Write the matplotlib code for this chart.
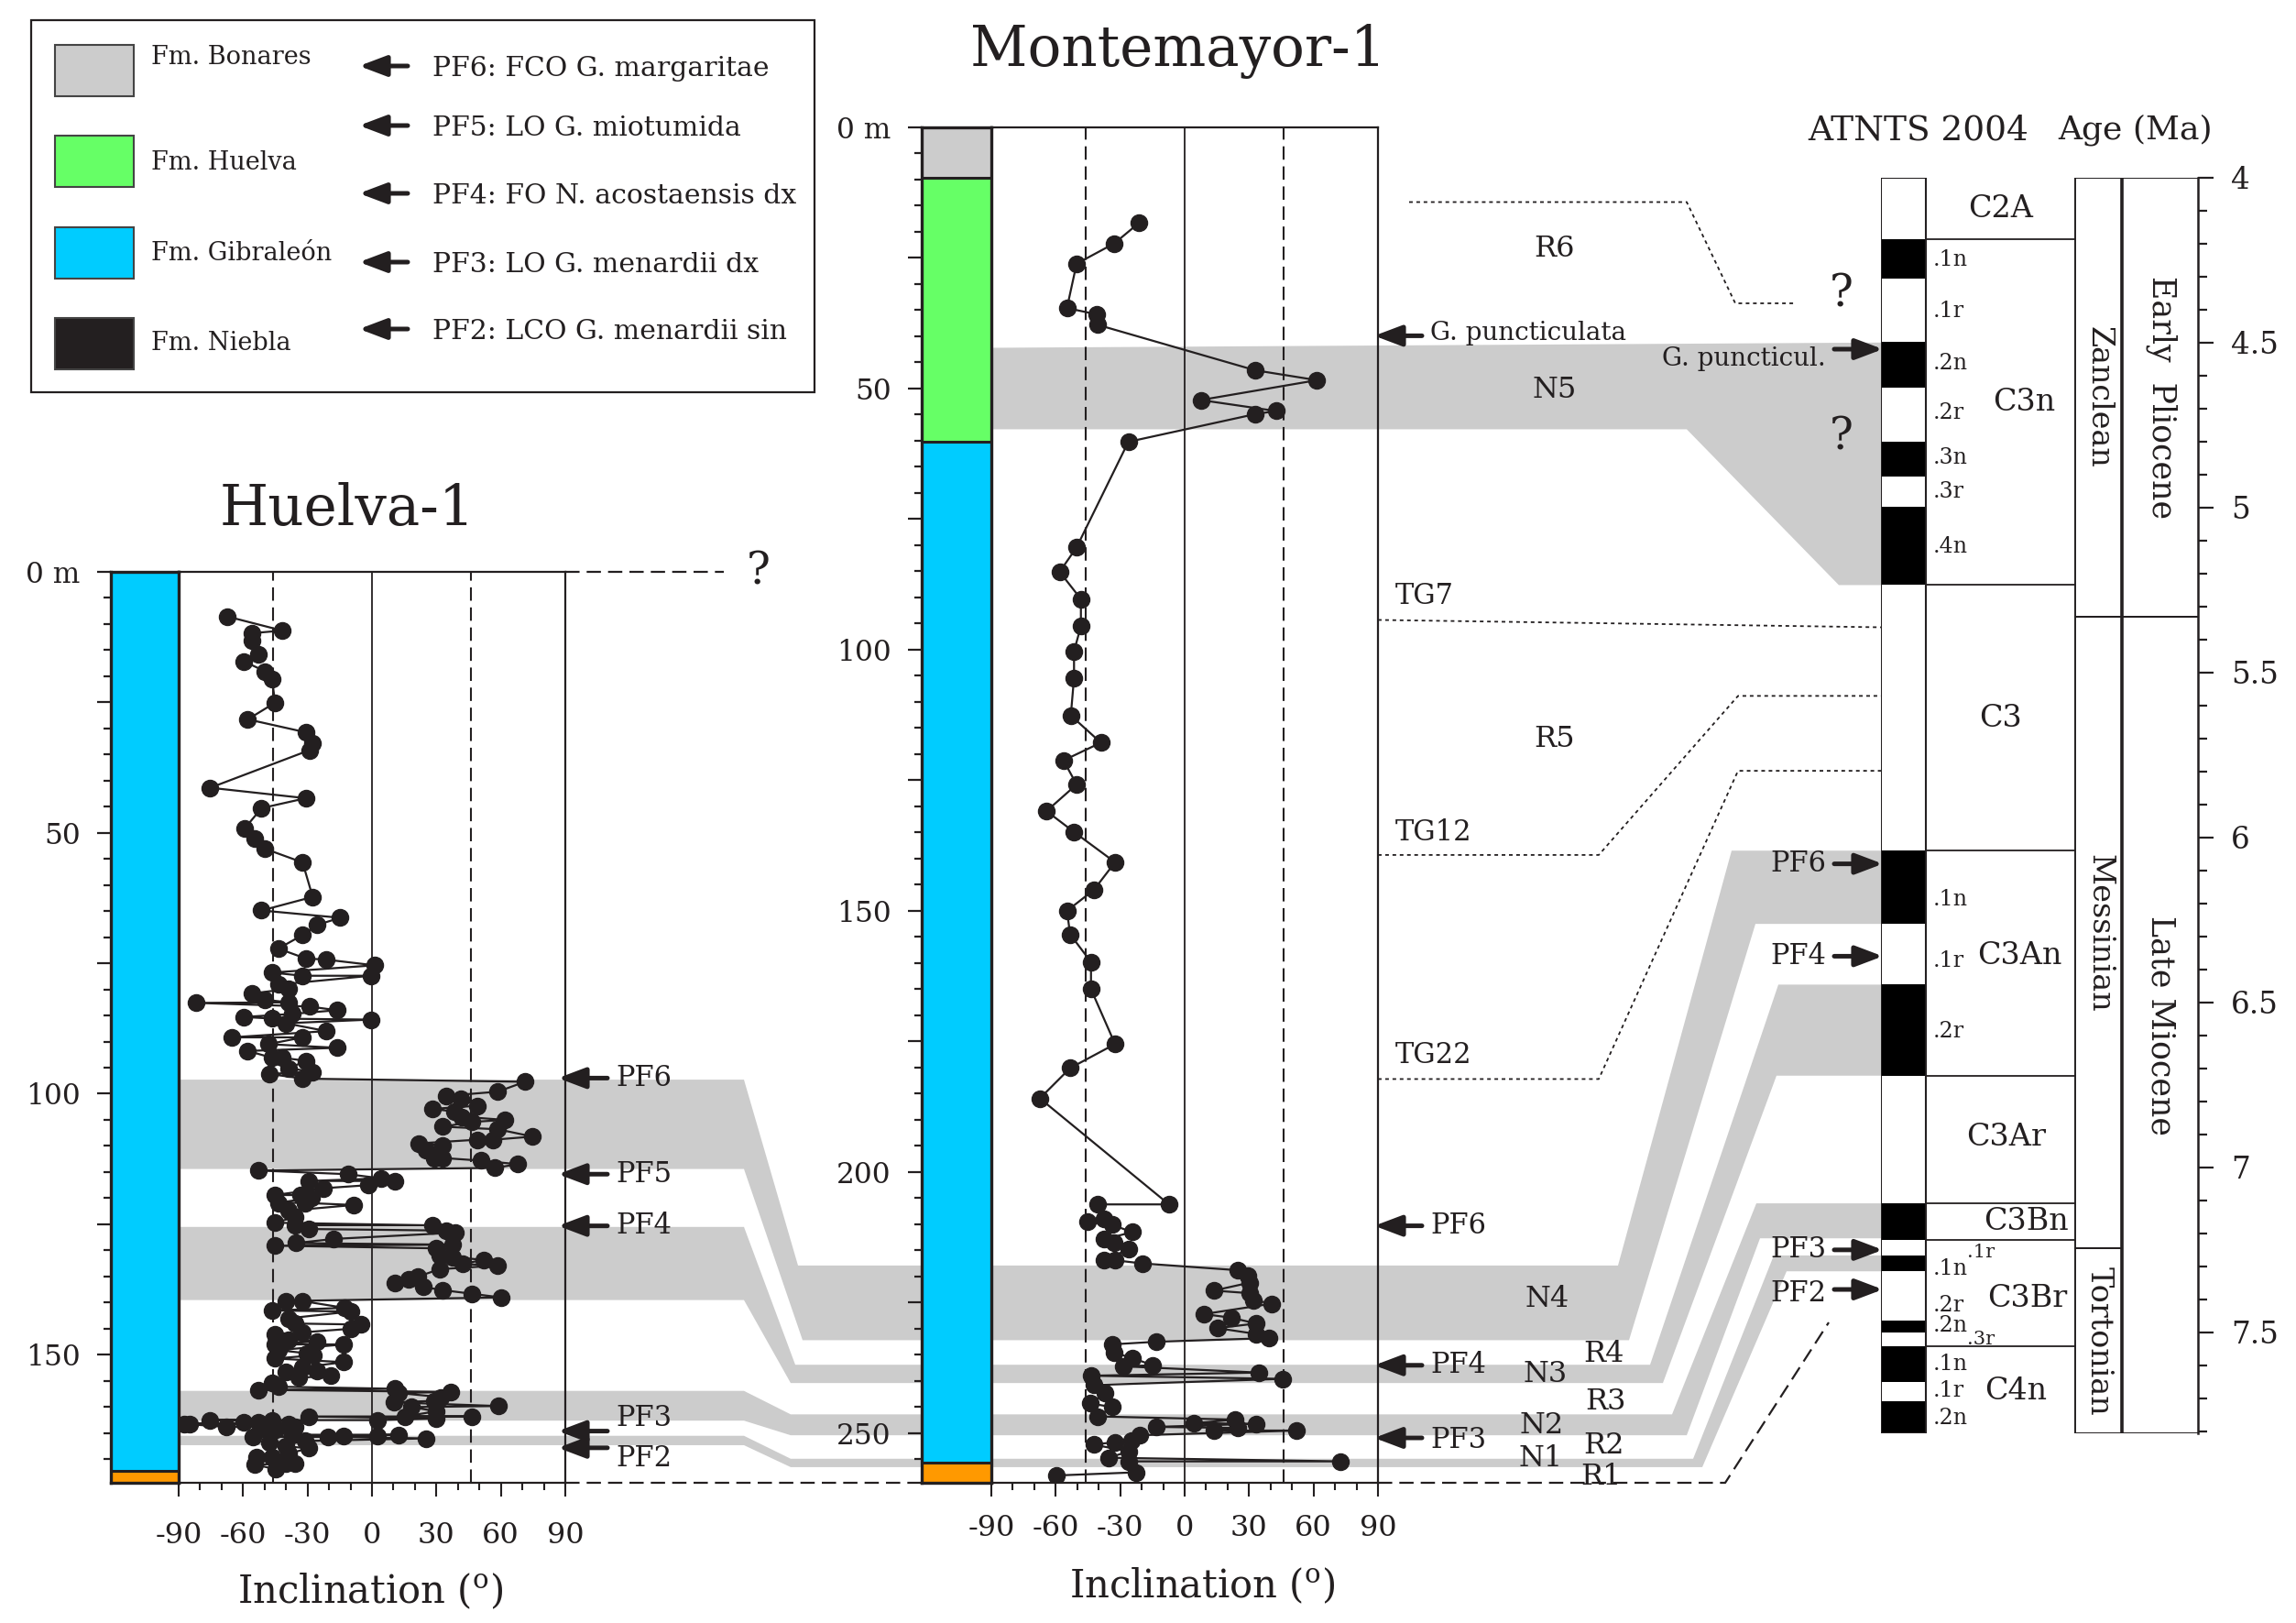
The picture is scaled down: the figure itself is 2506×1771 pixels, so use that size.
import numpy as np
import matplotlib
matplotlib.use("Agg")
import matplotlib.pyplot as plt
from matplotlib.patches import Polygon, Rectangle
from matplotlib.ticker import MultipleLocator

plt.rcParams['font.family'] = ['DejaVu Serif']
plt.rcParams['mathtext.fontset'] = 'dejavuserif'
INK = '#231f20'
GREY = '#cccccc'
GREEN = '#66ff66'
BLUE = '#00ccff'
ORANGE = '#ff9900'

#######################################################################
# Data
#######################################################################

# Huelva-1 : depth (m) and inclination (deg)
huelva_depth = [8.6, 11.3, 11.8, 13.3, 15.8, 17.2, 19.1, 20.5, 25.1, 28.3, 30.8, 32.8, 34.2,
                41.4, 43.4, 45.3, 49.2, 51.2, 53.1, 55.7, 62.3, 64.9, 66.3, 67.7, 69.6, 72.2,
                74.1, 74.3, 75.4, 76.8, 77.4, 77.4, 79.1, 79.9, 80.8, 82.0, 82.5, 82.6, 83.3,
                84.0, 84.7, 85.3, 85.6, 85.8, 86.5, 88.0, 89.2, 89.2, 90.5, 91.2, 91.8, 93.1,
                93.1, 93.7, 95.1, 95.8, 96.2, 97.1,
                97.7, 99.6, 100.4, 100.9, 102.3, 102.9, 103.4, 104.4, 105.0, 105.4, 106.3,
                106.8, 108.2, 108.8, 108.8, 109.5, 109.9, 110.8, 112.3, 112.3, 112.8, 113.5,
                114.2, 114.7, 115.4, 116.2, 116.7, 116.7, 117.5, 118.1, 119.4, 119.4, 119.9,
                120.9, 120.9, 121.3, 122.4, 123.6, 124.7, 125.2, 125.2, 125.9, 126.2, 126.6,
                127.8, 128.6, 128.9, 129.1, 129.6, 130.9, 131.3, 131.8, 132.6, 132.9, 133.6,
                135.0, 135.6, 136.3, 137.0, 137.6, 138.3, 139.0, 139.7, 139.7, 141.0, 141.5,
                141.7, 143.0, 144.0, 144.2, 145.0, 145.7, 146.0, 147.1, 147.4, 148.0, 148.0,
                149.1, 149.7, 150.1, 150.7, 151.4, 152.4, 153.1, 153.3, 154.0, 154.4, 155.3,
                156.1, 156.5, 156.7, 157.1, 157.3, 158.1, 158.8, 159.1, 159.8, 160.0, 160.8,
                161.8, 161.8, 161.8, 162.2, 162.5, 162.5, 162.5, 163.0, 163.0, 163.2, 163.2,
                163.3, 163.8, 163.8, 164.0, 164.3, 165.3, 165.3, 165.5, 165.5, 165.7, 165.7,
                166.0, 166.5, 166.8, 167.5, 167.9, 168.9, 169.5, 169.5, 170.9, 170.9, 171.0,
                171.9]
huelva_inc = [-67.4, -41.8, -55.9, -55.9, -52.9, -59.6, -49.8, -46.6, -45.1, -57.8, -30.6, -27.6, -29.1,
              -75.3, -30.8, -51.4, -59.3, -54.4, -49.7, -32.3, -27.6, -51.4, -14.8, -25.8, -32.3, -43.6,
              -30.8, -21.5, 1.2, -46.6, -32.3, -0.6, -43.6, -38.7, -55.9, -49.8, -38.7, -81.7, -29.1,
              -16.3, -36.9, -59.6, -46.6, -0.6, -40.2, -21.2, -65.4, -32.3, -48.2, -16.3, -57.8, -46.6,
              -41.8, -30.6, -38.7, -27.6, -47.8, -32.3,
              71.3, 58.5, 34.7, 41.3, 48.9, 28.3, 38.2, 41.8, 61.9, 46.6, 32.9,
              58.5, 74.8, 56.5, 48.9, 21.8, 32.9, 25.3, 29.1, 32.9, 50.7, 68.0,
              57.0, -52.9, -11.3, 4.3, -29.3, 10.8, -1.8, -22.7, -45.1, -33.4, -28.0,
              -43.7, -31.1, -8.5, -38.7, -35.7, -45.1, 28.3, -35.7, -29.3, 34.7, 39.0,
              -17.8, -35.6, 37.5, -45.1, 29.9, 31.4, 37.5, 52.0, 42.1, 58.5, 31.4,
              21.5, 16.9, 10.8, 23.8, 32.9, 46.6, 60.0, -40.2, -32.3, -12.8, -46.6,
              -9.8, -38.7, -35.7, -5.2, -9.8, -32.6, -45.1, -38.7, -25.8, -45.1, -13.1,
              -43.6, -30.3, -27.3, -45.1, -13.1, -32.6, -25.8, -40.2, -19.2, -34.1, -46.6,
              -43.6, 10.8, -52.9, 36.7, 12.3, 32.2, 29.1, 10.1, 58.8, 18.4, 29.9,
              15.4, 46.6, -29.6, 29.9, 2.7, -75.3, -46.6, -59.7, -52.9, -87.5, -38.7,
              -84.7, -67.7, -35.7, -51.3, -44.8, -37.3, 12.3, -13.1, 2.4, -55.5, -20.4,
              25.0, -31.1, -47.8, -40.2, -29.6, -38.7, -53.9, -46.6, -35.7, -40.2, -54.7,
              -44.8]

# Montemayor-1 : depth (m) and inclination (deg)
mont_depth = [18.3, 22.2, 26.1, 34.6, 35.8, 37.8, 46.5, 48.4, 52.2, 54.3, 54.9, 60.2,
              80.4, 85.1, 90.3, 95.5, 100.3, 105.4, 112.6, 117.8, 121.2, 125.8, 130.9, 134.9,
              140.7, 146.0, 150.0, 154.5, 159.8, 165.0, 175.5, 180.1, 185.9,
              206.2, 206.2, 209.0, 209.5, 210.1, 211.5, 212.9, 213.6, 214.8, 216.8, 216.9,
              217.5, 218.8, 219.8, 221.2, 222.7, 223.2, 224.5, 225.2, 227.2, 227.9, 229.0,
              229.9, 231.0, 231.8, 232.5, 233.0, 234.6, 235.6, 237.0, 237.2, 238.4, 239.0,
              239.6, 240.8, 242.3, 244.3, 245.0, 246.8, 247.4, 248.1, 248.2, 248.8, 249.0,
              249.5, 249.5, 250.4, 251.5, 251.7, 252.2, 253.5, 254.7, 255.4, 255.4, 257.5,
              258.1]
mont_inc = [-21.3, -32.7, -50.3, -54.8, -40.8, -40.5, 32.8, 61.6, 7.5, 42.5, 32.8, -26.2,
            -50.3, -58.2, -48.3, -48.3, -51.5, -51.5, -53.0, -39.0, -56.4, -50.3, -64.3, -51.5,
            -32.4, -42.3, -54.8, -53.3, -43.6, -43.6, -32.4, -53.3, -67.4,
            -7.3, -40.5, -37.5, -45.4, -33.9, -24.4, -37.5, -32.9, -25.9, -37.5, -32.4,
            -19.8, 24.7, 29.6, 30.1, 13.6, 30.1, 31.8, 40.7, 9.0, 21.7, 33.3,
            15.3, 33.3, 39.2, -13.4, -33.9, -32.9, -24.4, -14.9, -28.6, 34.6, -43.6,
            45.6, -42.3, -37.0, -43.9, -33.9, -40.5, 23.5, 4.1, 33.3, -13.4, 24.7,
            13.6, 52.1, -21.0, -24.8, -32.4, -42.3, -25.9, -35.5, 72.7, -25.9, -22.8,
            -59.6]

inc_ticks = [-90, -60, -30, 0, 30, 60, 90]
inc_labels = ['-90', '-60', '-30', '0', '30', '60', '90']
gad_inc = [-46, 46]

huelva_max = 174.5
mont_max = 259.5
huelva_lith = [(BLUE, 0, 172.2), (ORANGE, 172.2, 174.5)]
mont_lith = [(GREY, 0, 9.7), (GREEN, 9.7, 60.2), (BLUE, 60.2, 255.7), (ORANGE, 255.7, 259.5)]

# normal polarity intervals (grey bands), depth in m
huelva_bands = [(97.3, 114.4), (125.5, 139.5), (156.9, 162.6), (165.5, 167.3)]
mont_bands = [(42.2, 57.8), (217.9, 232.2), (236.9, 240.4), (246.4, 250.4), (254.9, 256.5)]
band_ages = [(4.50, 5.235), (6.040, 6.262), (6.446, 6.722), (7.109, 7.215), (7.267, 7.315)]

huelva_events = [("PF6", 97.0), ("PF5", 115.4), ("PF4", 125.3), ("PF3", 164.6), ("PF2", 167.8)]
mont_events = [("G. puncticulata", 39.9), ("PF6", 210.3), ("PF4", 237.0), ("PF3", 250.9)]
gpts_events = [("G. puncticul.", 4.52), ("PF6", 6.08), ("PF4", 6.36), ("PF3", 7.25), ("PF2", 7.37)]

# correlation lines: (label, Montemayor depth, age)
tg_lines = [("TG7", 94.3, 5.363), ("TG12", 139.3, 5.571), ("TG22", 182.2, 5.798)]
r6_depth, r6_age = 14.3, 4.381
huelva_base_age = 7.47

# ATNTS 2004 polarity column
age_top, age_bot = 4.0, 7.806
normal_chrons = [(4.187, 4.305), (4.497, 4.637), (4.800, 4.905), (4.999, 5.235), (6.040, 6.262),
                 (6.446, 6.722), (7.109, 7.219), (7.267, 7.315), (7.464, 7.500), (7.543, 7.651),
                 (7.710, 7.806)]
chron_bounds = [4.187, 5.235, 6.040, 6.722, 7.109, 7.219, 7.543]
chron_names = [("C2A", 4.096), ("C3n", 4.680), ("C3", 5.639), ("C3An", 6.359), ("C3Ar", 6.909),
               ("C3Bn", 7.165), ("C3Br", 7.397), ("C4n", 7.679)]
subchron_names = [(".1n", 4.250), (".1r", 4.404), (".2n", 4.563), (".2r", 4.712), (".3n", 4.848),
                  (".3r", 4.951), (".4n", 5.118), (".1n", 6.188), (".1r", 6.374), (".2r", 6.588),
                  (".1n", 7.307), (".2r", 7.418), (".2n", 7.480), (".1n", 7.597), (".1r", 7.677),
                  (".2n", 7.760)]
subchron_sup = [(".1r", 7.258), (".3r", 7.520)]
stages = [("Zanclean", 4.0, 5.332), ("Messinian", 5.332, 7.246), ("Tortonian", 7.246, 7.806)]
epochs = [("Early  Pliocene", 4.0, 5.332), ("Late Miocene", 5.332, 7.806)]
age_ticks = [4, 4.5, 5, 5.5, 6, 6.5, 7, 7.5]
age_labels = ['4', '4.5', '5', '5.5', '6', '6.5', '7', '7.5']

legend_units = ["Fm. Bonares", "Fm. Huelva", "Fm. Gibraleón", "Fm. Niebla"]
legend_colors = [GREY, GREEN, BLUE, INK]
legend_events = ["PF6: FCO G. margaritae", "PF5: LO G. miotumida", "PF4: FO N. acostaensis dx",
                 "PF3: LO G. menardii dx", "PF2: LCO G. menardii sin"]

#######################################################################
# Figure, pixel based layout
#######################################################################
W, H = 2506, 1771
fig = plt.figure(figsize=(W / 100, H / 100), dpi=100)


def add_px_axes(x0, y0, x1, y1):
    return fig.add_axes([x0 / W, 1 - y1 / H, (x1 - x0) / W, (y1 - y0) / H])


ov = fig.add_axes([0, 0, 1, 1])
ov.set_xlim(0, W)
ov.set_ylim(H, 0)
ov.axis('off')
ov.set_zorder(0)


def draw_log(lx0, x0, x1, y0, y1, dmax, depth, inc, layers, lab_pad):
    axl = add_px_axes(lx0, y0, x0, y1)
    axl.set_zorder(3)
    axl.set_xlim(0, 1)
    axl.set_ylim(dmax, 0)
    for color, top, bot in layers:
        axl.axhspan(top, min(bot, dmax), color=color, lw=0)
    for color, top, bot in layers[1:]:
        axl.axhline(top, color=INK, lw=2.2)
    axl.set_xticks([])
    ticks = np.arange(0, dmax, 25)
    axl.set_yticks(ticks)
    axl.set_yticklabels(['0 m' if t == 0 else ('%d' % t if t % 50 == 0 else '') for t in ticks])
    axl.yaxis.set_minor_locator(MultipleLocator(5))
    axl.tick_params(axis='y', which='major', length=11, width=1.6, labelsize=22.5, pad=13,
                    color=INK, labelcolor=INK)
    axl.tick_params(axis='y', which='minor', length=6, width=1.6, color=INK)
    for s in axl.spines.values():
        s.set_linewidth(2.4)
        s.set_color(INK)

    ax = add_px_axes(x0, y0, x1, y1)
    ax.set_facecolor('none')
    ax.set_zorder(2)
    ax.set_xlim(-90, 90)
    ax.set_ylim(dmax, 0)
    ax.axvline(0, color=INK, lw=1.3, zorder=1)
    for v in gad_inc:
        ax.axvline(v, color=INK, lw=1.5, dashes=(7, 3.5), zorder=1)
    d = np.asarray(depth)
    i = np.asarray(inc)
    o = np.argsort(d, kind='stable')
    ax.plot(i[o], d[o], color=INK, lw=1.6, marker='o', ms=13, zorder=3)
    ax.set_yticks([])
    ax.set_xticks(inc_ticks)
    ax.set_xticklabels(inc_labels)
    ax.xaxis.set_minor_locator(MultipleLocator(10))
    ax.tick_params(axis='x', which='major', length=10.5, width=1.5, labelsize=23, pad=lab_pad,
                   color=INK, labelcolor=INK)
    ax.tick_params(axis='x', which='minor', length=5.5, width=1.5, color=INK)
    for s in ax.spines.values():
        s.set_linewidth(1.6)
        s.set_color(INK)
    return axl, ax


axl_h, ax_h = draw_log(121, 195, 617, 623.7, 1618, huelva_max, huelva_depth, huelva_inc,
                       huelva_lith, 20)
axl_m, ax_m = draw_log(1006, 1082, 1504, 139, 1618, mont_max, mont_depth, mont_inc,
                       mont_lith, 14)

# ATNTS column
ag = add_px_axes(2053, 193.8, 2399, 1564)
ag.set_zorder(3)
ag.set_facecolor('none')
ag.set_xlim(2053, 2399)
ag.set_ylim(age_bot, age_top)
ag.fill_betweenx([age_top, age_bot], 2053, 2102, color='white', lw=0)
for a0, a1 in normal_chrons:
    ag.fill_betweenx([a0, a1], 2053, 2102, color='black', lw=0)
ag.plot([2053, 2102, 2102, 2053, 2053], [age_top, age_top, age_bot, age_bot, age_top],
        color=INK, lw=1.5)
for b in chron_bounds:
    ag.plot([2102, 2265], [b, b], color=INK, lw=1.3)
for name, a0, a1 in stages:
    ag.plot([2265, 2316, 2316, 2265, 2265], [a0, a0, a1, a1, a0], color=INK, lw=1.4)
    ag.text(2291, (a0 + a1) / 2, name, rotation=-90, ha='center', va='center',
            fontsize=24, color=INK)
for name, a0, a1 in epochs:
    ag.plot([2316, 2399], [a0, a0], color=INK, lw=1.4)
    ag.plot([2316, 2399], [a1, a1], color=INK, lw=1.4)
    ag.text(2359, (a0 + a1) / 2, name, rotation=-90, ha='center', va='center',
            fontsize=25, color=INK)
ag.plot([2316, 2316], [age_top, age_bot], color=INK, lw=2.6)
chron_x = {"C2A": 2184, "C3n": 2209, "C3": 2184, "C3An": 2204, "C3Ar": 2190,
           "C3Bn": 2211, "C3Br": 2213, "C4n": 2200}
for name, a in chron_names:
    ag.text(chron_x[name], a, name, ha='center', va='center', fontsize=24, color=INK)
for name, a in subchron_names:
    ag.text(2110, a, name, ha='left', va='center', fontsize=17, color=INK)
for name, a in subchron_sup:
    ag.text(2147, a, name, ha='left', va='center', fontsize=15, color=INK)
ag.set_xticks([])
ag.yaxis.tick_right()
ag.set_yticks(age_ticks)
ag.set_yticklabels(age_labels)
ag.yaxis.set_minor_locator(MultipleLocator(0.1))
ag.tick_params(axis='y', which='major', length=12, width=1.6, labelsize=23.5, pad=14,
               color=INK, labelcolor=INK)
ag.tick_params(axis='y', which='minor', length=7, width=1.6, color=INK)
for k, s in ag.spines.items():
    s.set_visible(k == 'right')
    s.set_linewidth(1.8)
    s.set_color(INK)

#######################################################################
# Overlay: correlation bands, lines, arrows and labels
#######################################################################


def to_ov(ax, x, y):
    return ov.transData.inverted().transform(ax.transData.transform((x, y)))


def y_on(ax, v):
    return to_ov(ax, ax.get_xlim()[0], v)[1]


xh_left = to_ov(ax_h, -90, 0)[0]
xh_right = to_ov(ax_h, 90, 0)[0]
xm_left = to_ov(ax_m, -90, 0)[0]
xm_right = to_ov(ax_m, 90, 0)[0]
xg_left = to_ov(ag, 2053, age_top)[0]

left_bends = [(812, 871, 812, 876), (812, 868, 812, 863), (812, 863, 812, 863), (812, 863, 812, 863)]
right_bends = [(None, None, 1841, 2007), (1766, 1890, 1778, 1916), (1801, 1941, 1815, 1939),
               (1825, 1917, 1841, 1921), (1848, 1936, 1858, 1950)]

for i, (mt, mb) in enumerate(mont_bands):
    at, ab = band_ages[i]
    if i == 0:
        top = [(xm_left, y_on(ax_m, mt))]
        bot = [(xm_left, y_on(ax_m, mb))]
    else:
        ht, hb = huelva_bands[i - 1]
        lt1, lt2, lb1, lb2 = left_bends[i - 1]
        top = [(xh_left, y_on(ax_h, ht)), (lt1, y_on(ax_h, ht)), (lt2, y_on(ax_m, mt))]
        bot = [(xh_left, y_on(ax_h, hb)), (lb1, y_on(ax_h, hb)), (lb2, y_on(ax_m, mb))]
    rt1, rt2, rb1, rb2 = right_bends[i]
    if rt1 is not None:
        top += [(rt1, y_on(ax_m, mt)), (rt2, y_on(ag, at))]
    bot += [(rb1, y_on(ax_m, mb)), (rb2, y_on(ag, ab))]
    top += [(xg_left, y_on(ag, at))]
    bot += [(xg_left, y_on(ag, ab))]
    ov.add_patch(Polygon(top + bot[::-1], closed=True, facecolor=GREY, edgecolor='none', zorder=1))

# dotted correlation lines
dot = dict(color=INK, lw=1.3, dashes=(2.2, 2.2), zorder=2)
y0 = y_on(ax_m, r6_depth)
y1 = y_on(ag, r6_age)
ov.plot([1538, 1841, 1894, 1959], [y0, y0, y1, y1], **dot)
ov.text(2010, y1 - 10, "?", ha='center', va='center', fontsize=35, color=INK)
ov.text(2010, y_on(ag, 4.80) - 5, "?", ha='center', va='center', fontsize=35, color=INK)
tg_label_y = {"TG7": -26, "TG12": -24, "TG22": -26}
for name, d, a in tg_lines:
    ym = y_on(ax_m, d)
    yg = y_on(ag, a)
    if name == "TG7":
        ov.plot([xm_right, xg_left], [ym, yg], **dot)
    else:
        ov.plot([xm_right, 1745, 1897, xg_left], [ym, ym, yg, yg], **dot)
    ov.text(1523, ym + tg_label_y[name], name, ha='left', va='center', fontsize=22, color=INK)

# dashed lines at top and base of Huelva-1
dash = dict(color=INK, lw=1.6, dashes=(7, 3.5), zorder=2)
yt = y_on(ax_h, 0)
ov.plot([xh_right, 790], [yt, yt], **dash)
ov.text(828, yt, "?", ha='center', va='center', fontsize=35, color=INK)
yb = y_on(ax_h, huelva_max)
ov.plot([xh_right, 1006], [yb, yb], **dash)
ov.plot([xm_right, 1883, 1996], [yb, yb, y_on(ag, huelva_base_age)], **dash)

# zone labels
zone_labels = [("R6", 1697, 271), ("N5", 1697, 425), ("R5", 1697, 806), ("N4", 1689, 1418),
               ("N3", 1687, 1500), ("N2", 1683, 1555), ("N1", 1682, 1592), ("R4", 1751, 1478),
               ("R3", 1753, 1530), ("R2", 1751, 1577), ("R1", 1747, 1612)]
for name, x, y in zone_labels:
    ov.text(x, y, name, ha='center', va='center', fontsize=23, color=INK, zorder=3)


def arrow(x_tail, x_head, y):
    ov.annotate('', xy=(x_head, y), xytext=(x_tail, y),
                arrowprops=dict(arrowstyle='-|>,head_length=0.9,head_width=0.34', lw=3.6,
                                color=INK, shrinkA=0, shrinkB=0, mutation_scale=20), zorder=4)


h_dy = [0, 0, 0, -14, 12]
for (name, d), dy in zip(huelva_events, h_dy):
    y = y_on(ax_h, d)
    arrow(663, 609, y)
    ov.text(672, y + dy, name, ha='left', va='center', fontsize=22, color=INK)
m_dy = [-3, 0, 0, 3]
for (name, d), dy in zip(mont_events, m_dy):
    y = y_on(ax_m, d)
    arrow(1552, 1500, y)
    ov.text(1561, y + dy, name, ha='left', va='center', fontsize=20 if name.startswith('G') else 22,
            color=INK)
g_dy = [10, 0, 0, 0, 4]
for (name, a), dy in zip(gpts_events, g_dy):
    y = y_on(ag, a)
    arrow(2002, 2055, y)
    ov.text(1993, y + dy, name, ha='right', va='center', fontsize=20 if name.startswith('G') else 22,
            color=INK, zorder=4)

# titles and axis labels
incl_label = "Inclination ($^{\\mathrm{o}}$)"
ov.text(379, 556, "Huelva-1", ha='center', va='center', fontsize=44, color=INK)
ov.text(1286, 56, "Montemayor-1", ha='center', va='center', fontsize=44, color=INK)
ov.text(404, 1737, incl_label, ha='center', va='center', fontsize=30, color=INK)
ov.text(1312, 1731, incl_label, ha='center', va='center', fontsize=30, color=INK)
ov.text(2094, 142, "ATNTS 2004", ha='center', va='center', fontsize=27, color=INK)
ov.text(2331, 142, "Age (Ma)", ha='center', va='center', fontsize=26, color=INK)

# legend
ov.add_patch(Rectangle((33.5, 22), 855.5, 406, facecolor='white', edgecolor=INK, lw=1.6, zorder=5))
sw_top = [49, 148, 248, 347]
unit_y = [62, 177, 276, 374]
for name, col, st, uy in zip(legend_units, legend_colors, sw_top, unit_y):
    ov.add_patch(Rectangle((60, st), 86, 56, facecolor=col, edgecolor='#444444', lw=1.5, zorder=6))
    ov.text(165, uy, name, ha='left', va='center', fontsize=19.5, color=INK, zorder=6)
ev_y = [72, 137, 211, 286, 359]
for name, ey in zip(legend_events, ev_y):
    ov.annotate('', xy=(392, ey), xytext=(445, ey),
                arrowprops=dict(arrowstyle='-|>,head_length=0.9,head_width=0.34', lw=3.6,
                                color=INK, shrinkA=0, shrinkB=0, mutation_scale=20), zorder=6)
    ov.text(472, ey + 3, name, ha='left', va='center', fontsize=21.5, color=INK, zorder=6)

fig.savefig("out.png", dpi=100)
